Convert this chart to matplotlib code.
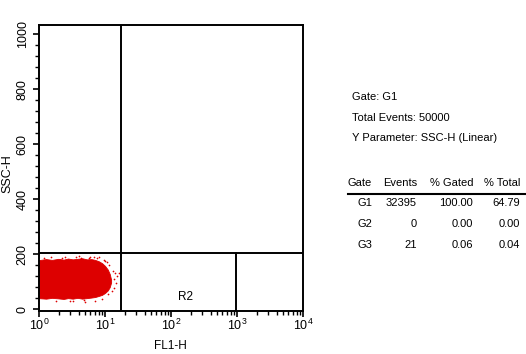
import matplotlib
matplotlib.use("Agg")
import matplotlib.pyplot as plt
from matplotlib.lines import Line2D
from matplotlib.ticker import MultipleLocator, LogLocator

plt.rcParams["font.family"] = ["Liberation Sans Narrow", "Liberation Sans", "DejaVu Sans"]
plt.rcParams["font.size"] = 9

# ---- data ----
# outline of the dense event cloud (FL1-H, SSC-H)
blob_top_x = [1, 1.3, 1.6, 2, 2.4, 2.8, 3.3, 3.9, 4.6, 5.4, 6.3, 7.2, 8.2, 9.2, 10.2, 11.2, 12.0, 12.6]
blob_top_y = [176, 180, 177, 181, 178, 182, 179, 181, 183, 179, 180, 177, 172, 165, 155, 142, 126, 105]
blob_bot_y = [38, 36, 39, 37, 35, 38, 36, 39, 36, 38, 40, 42, 46, 50, 57, 66, 78, 95]
# stray events around the cloud
stray_x = [13.5, 14.5, 15.2, 13.0, 13.8, 11.5, 10.6, 9.5, 8.0, 6.0, 4.0, 2.5, 1.2,
           3.0, 5.0, 7.0, 9.0, 11.0, 14.0, 12.8, 16.5, 1.8, 6.8, 10.0, 1.5, 2.2,
           3.6, 4.4, 5.8, 7.6, 3.3, 4.8]
stray_y = [110, 95, 120, 140, 75, 160, 170, 178, 188, 190, 192, 189, 186,
           29, 27, 31, 38, 55, 130, 65, 133, 31, 190, 175, 190, 186,
           189, 187, 186, 185, 30, 32]

# gates
gate_y = 203
gate_x1 = 17.3
gate_x2 = 950

info_lines = ["Gate: G1", "Total Events: 50000", "Y Parameter: SSC-H (Linear)"]
table_header = ["Gate", "Events", "% Gated", "% Total"]
gates = ["G1", "G2", "G3"]
events = [32395, 0, 21]
pct_gated = [100.00, 0.00, 0.06]
pct_total = [64.79, 0.00, 0.04]

W, H = 526, 354
fig = plt.figure(figsize=(W / 100, H / 100), dpi=100, facecolor="white")
ax = fig.add_axes([39 / W, 1 - 311 / H, 264 / W, 286.5 / H])

red = "#dd0000"
poly_x = blob_top_x + blob_top_x[::-1]
poly_y = blob_top_y + blob_bot_y[::-1]
ax.fill(poly_x, poly_y, color=red, lw=0.6, ec=red)
ax.scatter(stray_x, stray_y, s=1.5, color=red, lw=0)

ax.set_xscale("log")
ax.set_xlim(1, 1e4)
ax.set_ylim(-7, 1035)

# gate lines
lw = 1.4
ax.axhline(gate_y, color="black", lw=lw)
ax.axvline(gate_x1, color="black", lw=lw)
ax.plot([gate_x2, gate_x2], [-7, gate_y], color="black", lw=lw)
ax.text(163, 44, "R2", ha="center", va="center", fontsize=8.5)

for sp in ax.spines.values():
    sp.set_linewidth(lw)

ax.yaxis.set_major_locator(MultipleLocator(200))
ax.yaxis.set_minor_locator(MultipleLocator(40))
ax.xaxis.set_major_locator(LogLocator(base=10))
ax.xaxis.set_minor_locator(LogLocator(base=10, subs=range(2, 10)))
ax.tick_params(which="major", direction="out", length=4, width=1.2, labelsize=9)
ax.tick_params(which="minor", direction="out", length=3, width=1.0)
ax.tick_params(axis="x", which="major", pad=1)
for lab in ax.get_yticklabels():
    lab.set_rotation(90)
    lab.set_va("center")

ax.set_ylabel("SSC-H", fontsize=9)
ax.yaxis.set_label_coords(-0.098, 0.48)
ax.set_xlabel("FL1-H", fontsize=8.5)
ax.xaxis.set_label_coords(0.496, -0.122)
ax.xaxis.label.set_va("center")

# info block on the right
fs = 8
for i, line in enumerate(info_lines):
    fig.text(352 / W, 1 - (97 + 20.5 * i) / H, line, ha="left", va="center", fontsize=fs)

col_right = [372, 417, 473, 520]
hy = 183
for x, h in zip(col_right, table_header):
    fig.text(x / W, 1 - hy / H, h, ha="right", va="center", fontsize=fs)
fig.add_artist(Line2D([348 / W, 1.0], [1 - 194 / H, 1 - 194 / H], color="black", lw=1.5))

for r, g in enumerate(gates):
    yy = 1 - (203 + 21 * r) / H
    vals = [g, f"{events[r]}", f"{pct_gated[r]:.2f}", f"{pct_total[r]:.2f}"]
    for x, v in zip(col_right, vals):
        fig.text(x / W, yy, v, ha="right", va="center", fontsize=fs)

fig.savefig("out.png", dpi=100, facecolor="white")
